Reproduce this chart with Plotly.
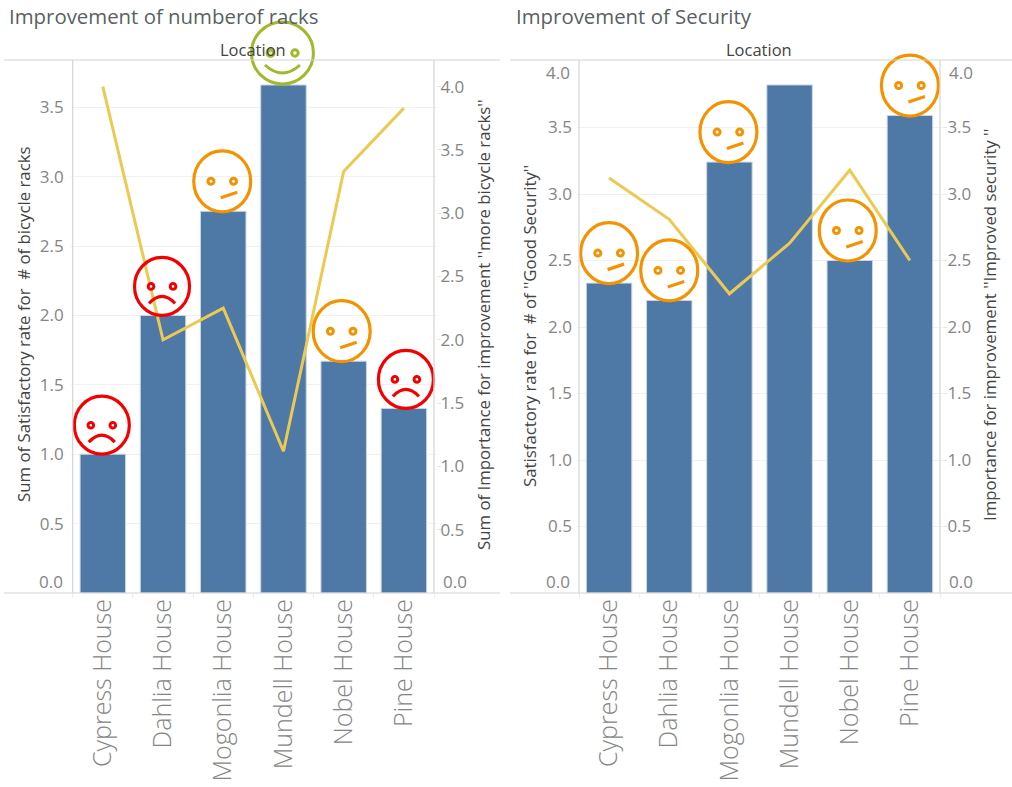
#!/usr/bin/env python3

import plotly.graph_objects as go

W = 1012
H = 787

houses = ["Cypress House", "Dahlia House", "Mogonlia House", "Mundell House", "Nobel House", "Pine House"]

racks_satisfaction = [1.0, 2.0, 2.75, 3.66, 1.67, 1.33]
racks_importance = [4.0, 2.0, 2.25, 1.12, 3.33, 3.83]
racks_faces = ["sad", "sad", "neutral", "happy", "neutral", "sad"]

security_satisfaction = [2.33, 2.2, 3.24, 3.82, 2.5, 3.59]
security_importance = [3.12, 2.81, 2.25, 2.63, 3.18, 2.5]
security_faces = ["neutral", "neutral", "neutral", None, "neutral", "neutral"]

racks_left_ticks = [0.5, 1.0, 1.5, 2.0, 2.5, 3.0, 3.5]
racks_right_ticks = [0.5, 1.0, 1.5, 2.0, 2.5, 3.0, 3.5, 4.0]
security_ticks = [0.5, 1.0, 1.5, 2.0, 2.5, 3.0, 3.5]

BLUE = "#4e79a7"
YELLOW = "#ecca52"
GREY = "#858585"
DARK = "#444444"
RULE = "#d4d4d4"
FONT = "Open Sans"
FACE_COLORS = {"sad": "#f50000", "neutral": "#f59200", "happy": "#a3b82c"}

# pixel offset of each face from its bar top
racks_dx = [-1, -1, -1, -1, -2, 2]
security_dx = [0, 0, -1, 0, -2, 0]


def px(v):
    return v / W


def py(v):
    return 1 - v / H


def ring(xa, ya, cat, val, cx, cy, rx, ry, color, width, fill="rgba(0,0,0,0)"):
    return dict(type="circle", xref=xa, yref=ya, xsizemode="pixel", ysizemode="pixel",
                xanchor=cat, yanchor=val, x0=cx - rx, x1=cx + rx, y0=cy - ry, y1=cy + ry,
                line=dict(color=color, width=width), fillcolor=fill, layer="above")


def stroke(xa, ya, cat, val, path, color, width):
    return dict(type="path", xref=xa, yref=ya, xsizemode="pixel", ysizemode="pixel",
                xanchor=cat, yanchor=val, path=path,
                line=dict(color=color, width=width), layer="above")


def smiley(xa, ya, cat, val, kind, dx):
    color = FACE_COLORS[kind]
    out = []
    if kind == "happy":
        cy = 32
        out.append(ring(xa, ya, cat, val, dx, cy, 31, 31, color, 3))
        out.append(ring(xa, ya, cat, val, dx - 12, cy, 3.4, 3.4, color, 3.2, "#dfe6b0"))
        out.append(ring(xa, ya, cat, val, dx + 12.5, cy, 3.2, 3.2, color, 3, "#ffffff"))
        x0, x1 = dx - 17.5, dx + 17.5
        out.append(stroke(xa, ya, cat, val, f"M{x0},{cy - 12} Q{dx},{cy - 28} {x1},{cy - 12}", color, 3))
    elif kind == "sad":
        cy = 29
        out.append(ring(xa, ya, cat, val, dx, cy, 27.5, 29, color, 3.2))
        out.append(ring(xa, ya, cat, val, dx - 11, cy, 2.8, 2.8, color, 3, "#ffffff"))
        out.append(ring(xa, ya, cat, val, dx + 11, cy, 2.8, 2.8, color, 3, "#ffffff"))
        x0, x1 = dx - 13, dx + 13
        out.append(stroke(xa, ya, cat, val, f"M{x0},{cy - 17} Q{dx},{cy - 3} {x1},{cy - 17}", color, 3.2))
    else:
        cy = 30
        out.append(ring(xa, ya, cat, val, dx, cy, 28.5, 30.5, color, 3.2))
        out.append(ring(xa, ya, cat, val, dx - 11.3, cy, 3, 3, color, 3, "#ffffff"))
        out.append(ring(xa, ya, cat, val, dx + 11.3, cy, 3, 3, color, 3, "#ffffff"))
        out.append(stroke(xa, ya, cat, val, f"M{dx - 1.5},{cy - 16.5} L{dx + 15},{cy - 11}", color, 3.2))
    return out


def tick_note(text, x, y, anchor):
    return dict(text=text, xref="paper", yref="paper", x=px(x), y=py(y), xanchor=anchor, yanchor="middle",
                showarrow=False, font=dict(family=FONT, size=17, color=GREY))


def side_title(text, x, y):
    return dict(text=text, xref="paper", yref="paper", x=px(x), y=py(y), xanchor="center", yanchor="middle",
                textangle=-90, showarrow=False, font=dict(family=FONT, size=16.8, color=DARK))


def head(text, x, y):
    return dict(text=text, xref="paper", yref="paper", x=px(x), y=py(y), xanchor="left", yanchor="middle",
                showarrow=False, font=dict(family=FONT, size=20.4, color="#5a5f63"))


def label(text, x, y):
    return dict(text=text, xref="paper", yref="paper", x=px(x), y=py(y), xanchor="center", yanchor="middle",
                showarrow=False, font=dict(family=FONT, size=16.5, color=DARK))


def rule(x0, y0, x1, y1):
    return dict(type="line", xref="paper", yref="paper", x0=px(x0), x1=px(x1), y0=py(y0), y1=py(y1),
                line=dict(color=RULE, width=1.2), layer="above")


fig = go.Figure()

fig.add_trace(go.Bar(x=houses, y=racks_satisfaction, xaxis="x", yaxis="y", marker_color=BLUE,
                     marker_line=dict(color="#c9d6e3", width=1), width=0.755))
fig.add_trace(go.Scatter(x=houses, y=racks_importance, xaxis="x", yaxis="y2", mode="lines",
                         line=dict(color=YELLOW, width=3)))
fig.add_trace(go.Bar(x=houses, y=security_satisfaction, xaxis="x2", yaxis="y3", marker_color=BLUE,
                     marker_line=dict(color="#c9d6e3", width=1), width=0.755))
fig.add_trace(go.Scatter(x=houses, y=security_importance, xaxis="x2", yaxis="y4", mode="lines",
                         line=dict(color=YELLOW, width=3)))

shapes = []
for house, val, kind, dx in zip(houses, racks_satisfaction, racks_faces, racks_dx):
    if kind:
        shapes += smiley("x", "y", house, val, kind, dx)
for house, val, kind, dx in zip(houses, security_satisfaction, security_faces, security_dx):
    if kind:
        shapes += smiley("x2", "y3", house, val, kind, dx)

shapes += [
    rule(4, 60, 500, 60), rule(4, 593, 500, 593), rule(72.7, 60, 72.7, 593), rule(434, 60, 434, 593),
    rule(510, 60, 1012, 60), rule(510, 593, 1012, 593), rule(579, 60, 579, 593), rule(940, 60, 940, 593),
]

annotations = [
    head("Improvement of numberof racks", 7, 16),
    head("Improvement of Security", 514, 16),
    label("Location", 253, 49),
    label("Location", 759, 49),
    side_title("Sum of Satisfactory rate for  # of bicycle racks", 23, 324),
    side_title("Sum of Importance for improvement ''more bicycle racks''", 483, 325),
    side_title("Satisfactory rate for  # of ''Good Security''", 530, 326),
    side_title("Importance for improvement ''Improved security ''", 989, 325),
    tick_note("0.0", 65, 581, "right"),
    tick_note("0.0", 441, 581, "left"),
    tick_note("0.0", 572, 581, "right"),
    tick_note("0.0", 947, 581, "left"),
    tick_note("4.0", 572, 72, "right"),
    tick_note("4.0", 947, 72, "left"),
]

tick_font = dict(family=FONT, size=17, color=GREY)
band_font = dict(family=FONT, size=25, color=GREY, weight=300)


def x_axis(left, right):
    return dict(domain=[px(left - 2), px(right + 2)], type="category", categoryorder="array", categoryarray=houses,
                range=[-0.5 - 2 / 60.2, 5.5 + 2 / 60.2], tickangle=-90, tickfont=band_font,
                ticks="outside", ticklen=4, tickcolor="#ececec", tickson="boundaries",
                showgrid=False, zeroline=False, showline=False)


def y_left(top, ticks, standoff):
    return dict(domain=[py(593), 1], range=[0, top], tickmode="array", tickvals=ticks,
                ticktext=[f"{t:.1f}" for t in ticks], tickfont=tick_font, ticklen=0, ticklabelstandoff=standoff,
                showgrid=True, gridcolor="#f1f1f1", gridwidth=1, zeroline=False, showline=False)


def y_right(over, anchor, top, ticks, standoff):
    return dict(domain=[py(593), 1], range=[0, top], overlaying=over, anchor=anchor, side="right",
                tickmode="array", tickvals=ticks, ticktext=[f"{t:.1f}" for t in ticks], tickfont=tick_font,
                ticks="outside", ticklen=4, tickcolor="#e4e4e4", ticklabelstandoff=standoff,
                showgrid=False, zeroline=False, showline=False)


fig.update_layout(
    width=W,
    height=H,
    margin=dict(l=0, r=0, t=0, b=0),
    autosize=False,
    showlegend=False,
    bargap=0.245,
    plot_bgcolor="#ffffff",
    paper_bgcolor="#ffffff",
    font=dict(family=FONT),
    xaxis=dict(anchor="y", **x_axis(72.7, 434)),
    xaxis2=dict(anchor="y3", **x_axis(579, 940)),
    yaxis=dict(anchor="x", **y_left(593 / 138.8, racks_left_ticks, 6)),
    yaxis2=y_right("y", "x", 593 / 126.6, racks_right_ticks, -4),
    yaxis3=dict(anchor="x2", **y_left(593 / 133, security_ticks, 4)),
    yaxis4=y_right("y3", "x2", 593 / 133, security_ticks, -3),
    shapes=shapes,
    annotations=annotations,
)

# the page's default body margin would push the figure 8px off
fig.write_html("out.html", config=dict(displayModeBar=False),
               post_script="document.body.style.margin='0';document.documentElement.style.overflow='hidden';")
